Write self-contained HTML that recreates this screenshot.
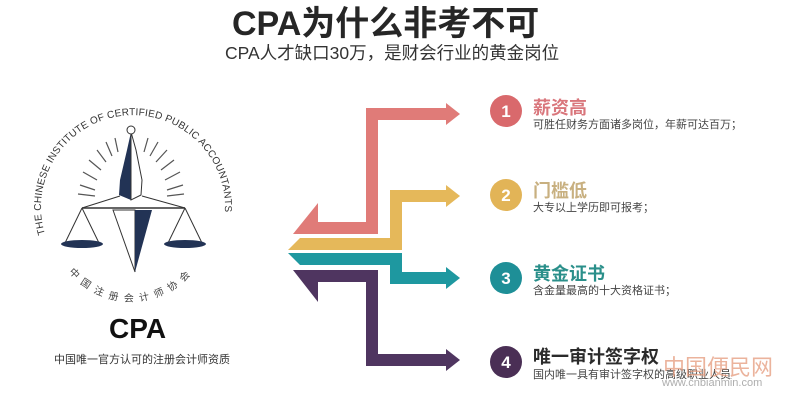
<!DOCTYPE html>
<html><head><meta charset="utf-8"><style>
body{margin:0;width:800px;height:400px;background:#fff;overflow:hidden;position:relative;font-family:"Liberation Sans","Noto Sans CJK SC",sans-serif}
.t{position:absolute;white-space:nowrap}
</style></head><body>
<div class="t" style="left:232px;top:-4px;font-size:34px;font-weight:bold;color:#262626">CPA为什么非考不可</div>
<div class="t" style="left:225px;top:40px;font-size:17.5px;color:#333">CPA人才缺口30万，是财会行业的黄金岗位</div>

<svg style="position:absolute;left:0;top:0" width="800" height="400">
<defs><path id="arc" d="M 45,234 A 92,92 0 1 1 221,234"/><path id="arc2" d="M 62,262 A 80,80 0 0 0 200,262"/></defs>
<text font-family="Liberation Sans,sans-serif" font-size="10" fill="#333" letter-spacing="0.2"><textPath href="#arc">THE CHINESE INSTITUTE OF CERTIFIED PUBLIC ACCOUNTANTS</textPath></text>
<text font-family="Noto Sans CJK SC,sans-serif" font-size="10" fill="#444" letter-spacing="6"><textPath href="#arc2" startOffset="12">中国注册会计师协会</textPath></text>
<g stroke="#555" stroke-width="1.2">
<line x1="95" y1="196" x2="78" y2="194"/><line x1="95" y1="190" x2="80" y2="185"/><line x1="97" y1="180" x2="83" y2="172"/><line x1="101" y1="170" x2="89" y2="160"/><line x1="106" y1="162" x2="97" y2="150"/><line x1="112" y1="156" x2="106" y2="142"/><line x1="118" y1="152" x2="115" y2="138"/>
<line x1="144" y1="152" x2="148" y2="138"/><line x1="150" y1="156" x2="158" y2="142"/><line x1="156" y1="162" x2="167" y2="150"/><line x1="161" y1="170" x2="174" y2="160"/><line x1="165" y1="180" x2="180" y2="172"/><line x1="167" y1="190" x2="183" y2="185"/><line x1="167" y1="196" x2="184" y2="194"/>
</g>
<polygon points="131,132 127,150 120,180 119,195 131,200" fill="#223355"/>
<polygon points="131,132 136,150 142,180 141,195 131,200" fill="#fff" stroke="#333"/>
<circle cx="131" cy="130" r="4" fill="#fff" stroke="#333"/>
<line x1="82" y1="208" x2="185" y2="208" stroke="#333" stroke-width="1.5"/>
<line x1="120" y1="196" x2="82" y2="208" stroke="#333"/><line x1="142" y1="196" x2="185" y2="208" stroke="#333"/>
<polygon points="113,210 135,272 135,210" fill="#fff" stroke="#333"/>
<polygon points="135,210 135,272 152,210" fill="#223355"/>
<line x1="82" y1="208" x2="65" y2="243" stroke="#333"/><line x1="82" y1="208" x2="99" y2="243" stroke="#333"/>
<line x1="185" y1="208" x2="168" y2="243" stroke="#333"/><line x1="185" y1="208" x2="202" y2="243" stroke="#333"/>
<ellipse cx="82" cy="244" rx="21" ry="4" fill="#223355"/><ellipse cx="185" cy="244" rx="21" ry="4" fill="#223355"/>

<g fill="none" stroke-width="12" stroke-linejoin="miter">
<path d="M448,114 L372,114 L372,228 L312,228" stroke="#e07b78"/>
<path d="M448,196 L396,196 L396,244 L300,244" stroke="#e5b85a"/>
<path d="M300,259 L396,259 L396,278 L448,278" stroke="#1e98a0"/>
<path d="M312,276 L372,276 L372,360 L448,360" stroke="#4f3560"/>
</g>
<polygon points="318,203 318,234 293,234" fill="#e07b78"/>
<polygon points="318,302 318,270 293,270" fill="#4f3560"/>
<polygon points="300,238 288,250 300,250" fill="#e5b85a"/>
<polygon points="300,253 288,253 300,265" fill="#1e98a0"/>
<polygon points="446,103 460,114 446,125" fill="#e07b78"/>
<polygon points="446,185 460,196 446,207" fill="#e5b85a"/>
<polygon points="446,267 460,278 446,289" fill="#1e98a0"/>
<polygon points="446,349 460,360 446,371" fill="#4f3560"/>

<circle cx="506" cy="111" r="16" fill="#d9696c"/>
<circle cx="506" cy="195" r="16" fill="#e2b457"/>
<circle cx="506" cy="278" r="16" fill="#1e8f97"/>
<circle cx="506" cy="362" r="16" fill="#4a2f55"/>
<g font-family="Liberation Sans,sans-serif" font-weight="bold" font-size="17" fill="#fff" text-anchor="middle">
<text x="506" y="117">1</text><text x="506" y="201">2</text><text x="506" y="284">3</text><text x="506" y="368">4</text></g>
</svg>

<div class="t" style="left:533px;top:94px;font-size:18px;font-weight:bold;color:#d9767c">薪资高</div>
<div class="t" style="left:533px;top:116px;font-size:11px;color:#444">可胜任财务方面诸多岗位，年薪可达百万；</div>
<div class="t" style="left:533px;top:177px;font-size:18px;font-weight:bold;color:#c8b080">门槛低</div>
<div class="t" style="left:533px;top:199px;font-size:11px;color:#444">大专以上学历即可报考；</div>
<div class="t" style="left:533px;top:260px;font-size:18px;font-weight:bold;color:#2a8f8a">黄金证书</div>
<div class="t" style="left:533px;top:282px;font-size:11px;color:#444">含金量最高的十大资格证书；</div>
<div class="t" style="left:533px;top:343px;font-size:18px;font-weight:bold;color:#2a2a2a">唯一审计签字权</div>
<div class="t" style="left:533px;top:366px;font-size:11px;color:#444">国内唯一具有审计签字权的高级职业人员</div>

<div class="t" style="left:663px;top:350px;font-size:22px;color:#e59a7c;opacity:.75">中国便民网</div>
<div class="t" style="left:662px;top:377px;font-size:11px;color:#999;opacity:.8">www.cnbianmin.com</div>

<div class="t" style="left:109px;top:313px;font-size:28px;font-weight:bold;color:#111">CPA</div>
<div class="t" style="left:54px;top:351px;font-size:11px;color:#333">中国唯一官方认可的注册会计师资质</div>
</body></html>
